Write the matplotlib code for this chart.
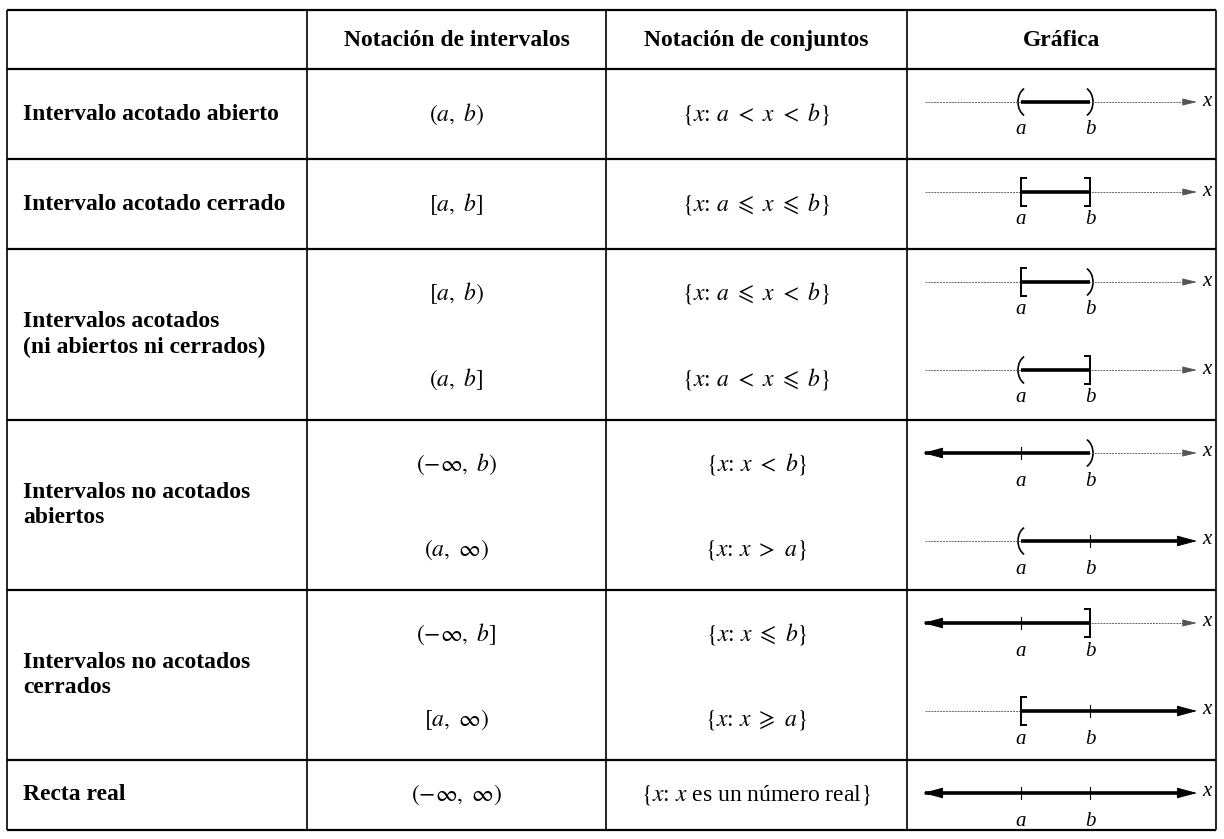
import matplotlib

matplotlib.use("Agg")
import matplotlib.pyplot as plt
from matplotlib.patches import Arc

plt.rcParams["mathtext.fontset"] = "stix"

# --- table content ---
headers = ["Notación de intervalos", "Notación de conjuntos", "Gráfica"]
row_labels = [
    "Intervalo acotado abierto",
    "Intervalo acotado cerrado",
    "Intervalos acotados\n(ni abiertos ni cerrados)",
    "Intervalos no acotados\nabiertos",
    "Intervalos no acotados\ncerrados",
    "Recta real",
]
# which row block each sub-row belongs to
sub_group = [0, 1, 2, 2, 3, 3, 4, 4, 5]
interval_notation = [
    r"$(a,\ b)$",
    r"$[a,\ b]$",
    r"$[a,\ b)$",
    r"$(a,\ b]$",
    r"$(-\infty,\ b)$",
    r"$(a,\ \infty)$",
    r"$(-\infty,\ b]$",
    r"$[a,\ \infty)$",
    r"$(-\infty,\ \infty)$",
]
set_notation = [
    r"$\{x$: $a\ <\ x\ <\ b\}$",
    r"$\{x$: $a\ \leqslant\ x\ \leqslant\ b\}$",
    r"$\{x$: $a\ \leqslant\ x\ <\ b\}$",
    r"$\{x$: $a\ <\ x\ \leqslant\ b\}$",
    r"$\{x$: $x\ <\ b\}$",
    r"$\{x$: $x\ >\ a\}$",
    r"$\{x$: $x\ \leqslant\ b\}$",
    r"$\{x$: $x\ \geqslant\ a\}$",
    r"$\{x$: $x$ es un número real$\}$",
]
# endpoint kind for the graph: "(" ")" "[" "]" or "inf"
left_end = ["(", "[", "[", "(", "inf", "(", "inf", "[", "inf"]
right_end = [")", "]", ")", "]", ")", "inf", "]", "inf", "inf"]

# --- layout (pixels) ---
col_x = [7, 307, 606, 907, 1216]
row_y = [10, 69, 159, 249, 420, 590, 760, 830]
xa, xb = 1021, 1090
line_x0, line_x1 = 925, 1197

fig = plt.figure(figsize=(12.24, 8.39), dpi=100)
ax = fig.add_axes([0, 0, 1, 1])
ax.set_xlim(0, 1224)
ax.set_ylim(839, 0)
ax.axis("off")

serif = "Liberation Serif"

# grid
for y in row_y:
    ax.plot([col_x[0], col_x[-1]], [y, y], color="black", lw=1.6, solid_capstyle="butt")
for x in col_x:
    ax.plot([x, x], [row_y[0], row_y[-1]], color="black", lw=1.2, solid_capstyle="butt")

# header
for i, h in enumerate(headers):
    ax.text((col_x[i + 1] + col_x[i + 2]) / 2, (row_y[0] + row_y[1]) / 2 + 1, h,
            ha="center", va="center", family=serif, weight="bold", fontsize=17)

# row labels
for g, lab in enumerate(row_labels):
    ax.text(col_x[0] + 16, (row_y[g + 1] + row_y[g + 2]) / 2, lab, ha="left", va="center",
            family=serif, weight="bold", fontsize=17, linespacing=1.3)


def draw_end(kind, x, y):
    h = 14
    d = 1 if kind in "([" else -1
    if kind in "()":
        ax.add_patch(Arc((x + d * 8, y), 22, 2 * h / 0.94, theta1=110 if d > 0 else -70,
                         theta2=250 if d > 0 else 70, color="black", lw=1.2))
    else:
        ax.plot([x, x], [y - h, y + h], color="black", lw=1.4)
        ax.plot([x, x + d * 5], [y - h, y - h], color="black", lw=1.4)
        ax.plot([x, x + d * 5], [y + h, y + h], color="black", lw=1.4)


def head(x_tip, y, direction, thick):
    if thick:
        style = "-|>,head_length=1.3,head_width=0.35"
        col = "black"
        ln = 16
    else:
        style = "-|>,head_length=0.9,head_width=0.22"
        col = "#555555"
        ln = 10
    ax.annotate("", xy=(x_tip, y), xytext=(x_tip - direction * ln, y),
                arrowprops=dict(arrowstyle=style, color=col, lw=0.6,
                                shrinkA=0, shrinkB=0))


# sub-row rows
for k in range(len(sub_group)):
    g = sub_group[k]
    top = row_y[g + 1]
    first = sub_group.index(g)
    j = k - first
    y_line = top + 33 + j * 88
    single = sub_group.count(g) == 1
    y_text = (top + row_y[g + 2]) / 2 if single else top + 44 + j * 86
    ax.text((col_x[1] + col_x[2]) / 2, y_text, interval_notation[k], ha="center",
            va="center", fontsize=17)
    ax.text((col_x[2] + col_x[3]) / 2, y_text, set_notation[k], ha="center",
            va="center", fontsize=17, family=serif)

    # number line
    le, re = left_end[k], right_end[k]
    ax.plot([line_x0, line_x1 - 8], [y_line, y_line], color="#666666", lw=0.7,
            ls=(0, (2, 1)))
    x0 = line_x0 if le == "inf" else xa
    x1 = line_x1 - 12 if re == "inf" else xb
    ax.plot([x0, x1], [y_line, y_line], color="black", lw=2.6, solid_capstyle="butt")
    if le == "inf":
        head(line_x0 - 2, y_line, -1, True)
    if re == "inf":
        head(line_x1, y_line, 1, True)
    else:
        head(line_x1, y_line, 1, False)
    if le != "inf":
        draw_end(le, xa, y_line)
    else:
        ax.plot([xa, xa], [y_line - 6, y_line + 6], color="black", lw=0.8)
    if re != "inf":
        draw_end(re, xb, y_line)
    else:
        ax.plot([xb, xb], [y_line - 6, y_line + 6], color="black", lw=0.8)
    ax.text(xa, y_line + 28, "a", ha="center", va="center", family=serif,
            style="italic", fontsize=15)
    ax.text(xb, y_line + 28, "b", ha="center", va="center", family=serif,
            style="italic", fontsize=15)
    ax.text(line_x1 + 5, y_line - 1, "x", ha="left", va="center", family=serif,
            style="italic", fontsize=15)

fig.savefig("out.png", dpi=100)
